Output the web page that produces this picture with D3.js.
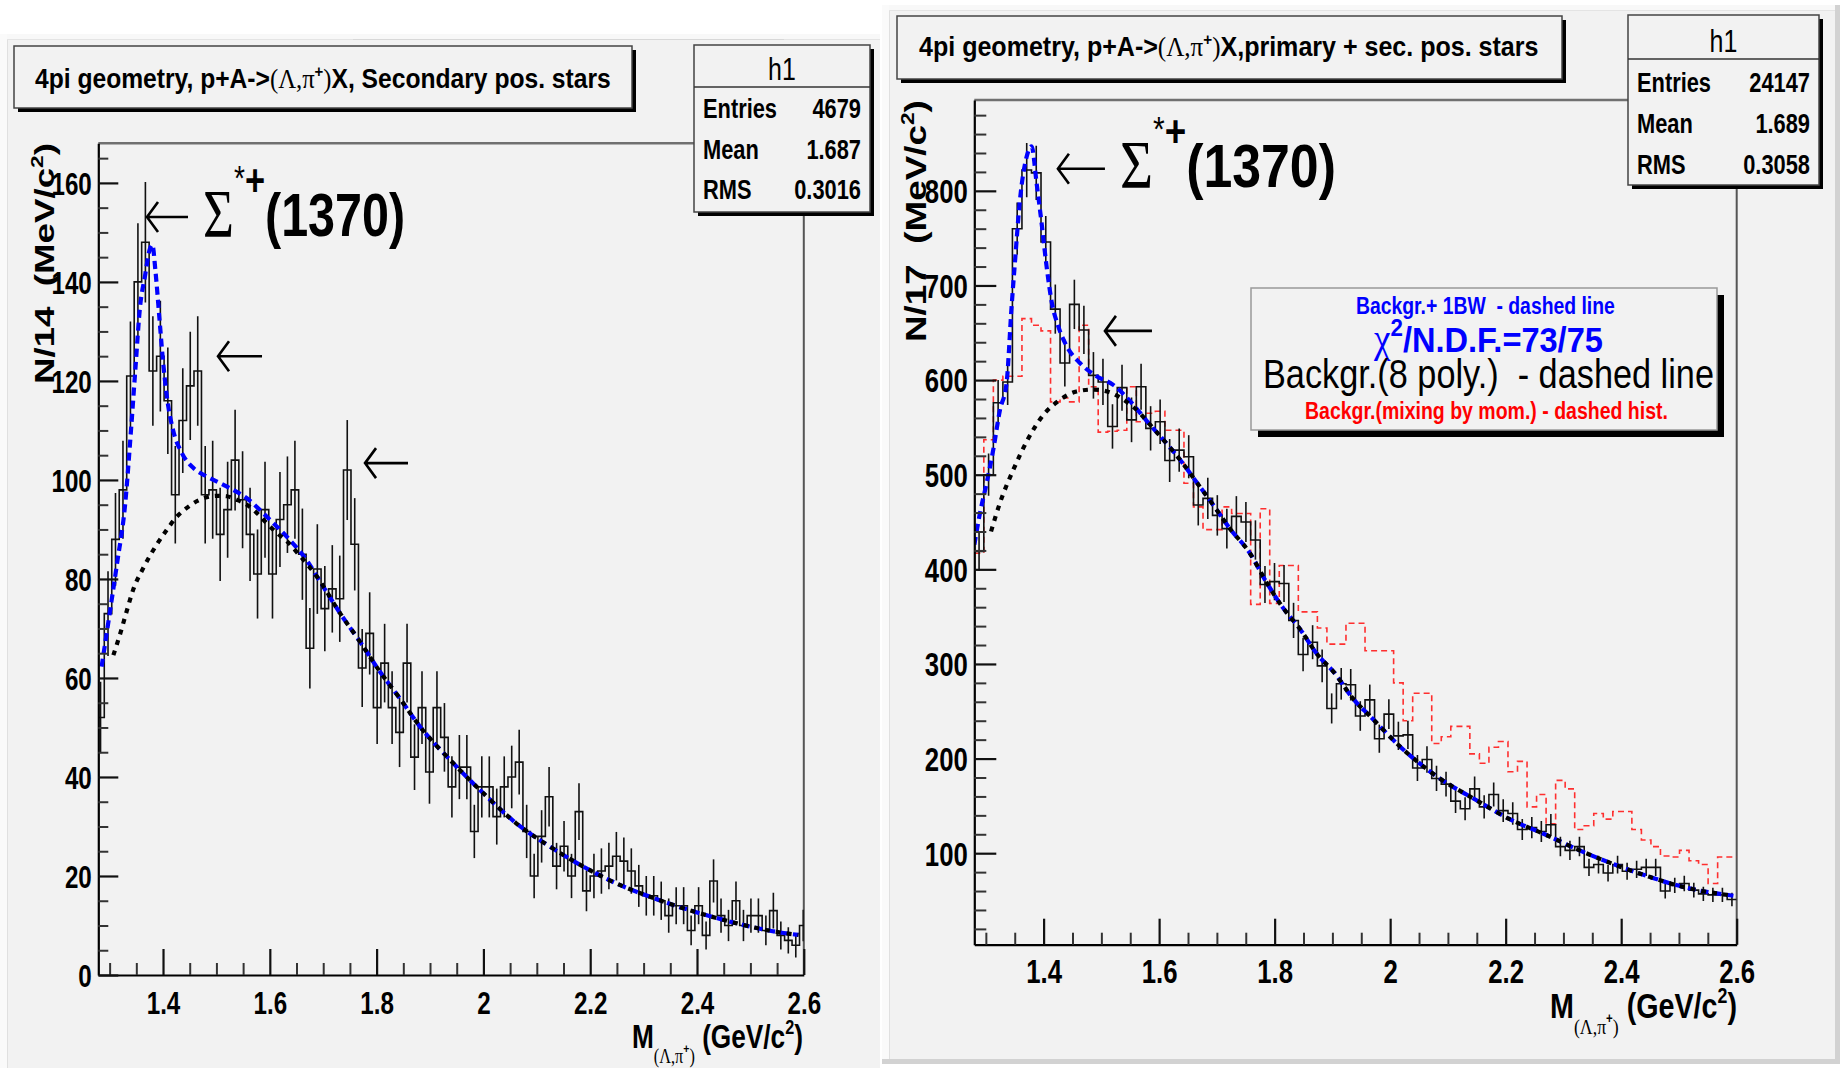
<!DOCTYPE html>
<html>
<head>
<meta charset="utf-8">
<script src="https://cdn.jsdelivr.net/npm/d3@7"></script>
<style>
  body { margin: 0; background: #fff; }
  text { white-space: pre; }
</style>
</head>
<body>
<svg id="chart" width="1842" height="1068"></svg>
<script>
// ---------- data ----------
// Left histogram: M(Λ,π+) in 14 MeV bins, secondary positive stars
const leftBinStart = 1.276;
const leftBinWidth = 0.014;
const leftCounts = [
  52, 73, 88, 98, 121, 140, 148, 122, 125, 116,
  97, 112, 119, 122, 97, 98, 89, 94, 104, 96,
  89, 81, 94, 81, 92, 95, 98, 85, 66, 82,
  74, 78, 76, 102, 87, 62, 69, 54, 63, 54,
  49, 63, 44, 54, 41, 54, 48, 38, 42, 42,
  29, 38, 38, 32, 38, 40, 43, 29, 20, 28,
  36, 22, 26, 20, 33, 17, 20, 21, 22, 24,
  23, 21, 18, 16, 16, 15, 12, 14, 14, 9,
  14, 8, 19, 12, 10, 15, 10, 12, 12, 9,
  13, 8, 7, 6, 10
];
// Fit curves, left: background + 1 BW (blue) and background polynomial (black)
const leftFit = [
  [1.285, 62.3], [1.301, 73.7], [1.314, 83.2], [1.329, 95], [1.340, 110], [1.348, 122],
  [1.357, 135], [1.366, 141], [1.375, 146.5], [1.380, 147.5], [1.386, 142], [1.393, 133],
  [1.400, 124], [1.407, 117], [1.419, 110], [1.435, 105.5], [1.457, 102.4], [1.482, 100.7],
  [1.519, 98.7], [1.557, 96.3], [1.594, 92.6], [1.632, 88.5], [1.669, 83.8], [1.694, 79.5],
  [1.732, 73], [1.769, 67.3], [1.806, 61.3], [1.844, 55.8], [1.881, 50.2], [1.938, 43.4],
  [2.000, 36.7], [2.062, 30.6], [2.125, 25.9], [2.187, 21.9], [2.249, 18.5], [2.312, 15.8],
  [2.374, 13.5], [2.437, 11.5], [2.499, 9.8], [2.549, 8.7], [2.590, 8.1]
];
const leftBkg = [
  [1.307, 64.6], [1.320, 69], [1.332, 73.5], [1.344, 77.8], [1.363, 82.2], [1.388, 86.9],
  [1.407, 89.9], [1.426, 92.6], [1.444, 94.3], [1.463, 95.7], [1.482, 96.5], [1.501, 96.8],
  [1.519, 96.7], [1.538, 96.0], [1.557, 95.0], [1.576, 93.3], [1.594, 91.3], [1.613, 89.3],
  [1.632, 87.6], [1.657, 84.6], [1.688, 80.5], [1.732, 73], [1.769, 67.3], [1.806, 61.3],
  [1.844, 55.8], [1.881, 50.2], [1.938, 43.4], [2.000, 36.7], [2.062, 30.6], [2.125, 25.9],
  [2.187, 21.9], [2.249, 18.5], [2.312, 15.8], [2.374, 13.5], [2.437, 11.5], [2.499, 9.8],
  [2.549, 8.7], [2.590, 8.1]
];

// Right histogram: M(Λ,π+) in 16.5 MeV bins, primary + secondary positive stars
const rightBinStart = 1.28;
const rightBinWidth = 0.0165;
const rightCounts = [
  419, 500, 576, 598, 760, 822, 819, 746, 675, 618,
  680, 653, 605, 598, 551, 592, 558, 593, 549, 556,
  515, 526, 519, 468, 475, 457, 443, 456, 450, 431,
  384, 387, 385, 346, 310, 323, 298, 253, 279, 278,
  245, 262, 221, 247, 224, 225, 190, 199, 179, 173,
  155, 147, 168, 149, 162, 145, 142, 125, 127, 123,
  130, 107, 103, 107, 85, 88, 79, 88, 81, 83,
  85, 85, 60, 66, 68, 61, 57, 56, 56, 51
];
// Background from event mixing by momentum (red dashed histogram)
const rightMixed = [
  417, 537, 600, 604, 604, 665, 658, 652, 577, 581,
  577, 658, 593, 545, 546, 547, 593, 556, 565, 567,
  547, 547, 491, 466, 442, 442, 466, 459, 459, 363,
  464, 364, 404, 404, 355, 355, 338, 321, 321, 343,
  343, 314, 314, 314, 280, 240, 269, 269, 216, 223,
  234, 234, 205, 195, 212, 218, 186, 197, 149, 162,
  131, 177, 168, 125, 129, 142, 136, 144, 144, 125,
  114, 107, 97, 96, 103, 92, 88, 68, 96, 96
];
const rightFit = [
  [1.2801, 426], [1.2897, 459], [1.3013, 491], [1.3127, 526], [1.3243, 568], [1.3359, 597],
  [1.3446, 678], [1.3503, 724], [1.359, 790], [1.3706, 836], [1.3792, 847], [1.3879, 808],
  [1.3965, 766], [1.4052, 720], [1.4139, 683], [1.4253, 657], [1.4398, 636], [1.4629, 618],
  [1.4918, 604], [1.5205, 595], [1.5494, 578], [1.5784, 557], [1.6071, 537], [1.636, 516],
  [1.6649, 492], [1.6937, 468], [1.7226, 443], [1.7572, 417], [1.7861, 386], [1.8149, 359],
  [1.8438, 337], [1.8727, 311], [1.9044, 290], [1.9361, 263], [1.9649, 245], [2.0255, 208],
  [2.0859, 179], [2.1465, 157], [2.2069, 136], [2.2675, 120], [2.328, 103], [2.3886, 88],
  [2.449, 75], [2.5096, 64], [2.5943, 55]
];
const rightBkg = [
  [1.309, 440], [1.3243, 470], [1.3474, 505], [1.3706, 535], [1.3993, 563], [1.4282, 579],
  [1.4571, 588], [1.4859, 590], [1.5148, 587], [1.5437, 577], [1.5668, 565], [1.5784, 557],
  [1.6071, 537], [1.636, 516], [1.6649, 492], [1.6937, 468], [1.7226, 443], [1.7572, 417],
  [1.7861, 386], [1.8149, 359], [1.8438, 337], [1.8727, 311], [1.9044, 290], [1.9361, 263],
  [1.9649, 245], [2.0255, 208], [2.0859, 179], [2.1465, 157], [2.2069, 136], [2.2675, 120],
  [2.328, 103], [2.3886, 88], [2.449, 75], [2.5096, 64], [2.5943, 55]
];

// Axis ticks and labels
const xMajorTicks = [1.4, 1.6, 1.8, 2.0, 2.2, 2.4, 2.6];
const xTickLabels = ["1.4", "1.6", "1.8", "2", "2.2", "2.4", "2.6"];
const leftYTicks = [0, 20, 40, 60, 80, 100, 120, 140, 160];
const rightYTicks = [100, 200, 300, 400, 500, 600, 700, 800];

// Statistics boxes
const statsLeft = [["Entries", "4679"], ["Mean", "1.687"], ["RMS", "0.3016"]];
const statsRight = [["Entries", "24147"], ["Mean", "1.689"], ["RMS", "0.3058"]];

// ---------- drawing ----------
const SANS = "'Liberation Sans', Arial, Helvetica, sans-serif";
const SERIF = "'Liberation Serif', 'Times New Roman', serif";
const SX = 0.78;          // horizontal condensing of the text
const PAD = "#f2f2f2";

const svg = d3.select("#chart");
svg.append("rect").attr("width", 1842).attr("height", 1068).attr("fill", "#fff");

// pads with their bevelled edges
function drawPad(x0, y0, x1, y1, darkEdges) {
  const g = svg.append("g");
  g.append("rect").attr("x", x0).attr("y", y0).attr("width", x1 - x0).attr("height", y1 - y0).attr("fill", PAD);
  g.append("rect").attr("x", x0).attr("y", y0).attr("width", x1 - x0).attr("height", 5).attr("fill", "#f8f8f8");
  g.append("rect").attr("x", x0).attr("y", y0).attr("width", 7).attr("height", y1 - y0).attr("fill", "#fafafa");
  g.append("line").attr("x1", x0 + 7.5).attr("x2", x0 + 7.5).attr("y1", y0 + 5).attr("y2", y1)
    .attr("stroke", "#e0e0e0").attr("stroke-width", 1);
  g.append("line").attr("x1", x0 + 7).attr("x2", x1).attr("y1", y0 + 5.5).attr("y2", y0 + 5.5)
    .attr("stroke", "#e4e4e4").attr("stroke-width", 1);
  if (darkEdges) {
    g.append("rect").attr("x", x1 - 5).attr("y", y0).attr("width", 5).attr("height", y1 - y0).attr("fill", "#d2d2d2");
    g.append("rect").attr("x", x0).attr("y", y1 - 5).attr("width", x1 - x0).attr("height", 5).attr("fill", "#d2d2d2");
  }
}
drawPad(0, 34, 880, 1068, false);
drawPad(882, 5, 1840, 1064, true);
svg.append("line").attr("x1", 353).attr("x2", 784).attr("y1", 39.5).attr("y2", 39.5)
  .attr("stroke", "#d8d8d8").attr("stroke-width", 1);

// text helpers
function fitText(t, x0, x1, baseY) {
  const bb = t.node().getBBox();
  const s = (x1 - x0) / bb.width;
  t.attr("transform", `translate(${x0 - bb.x * s},${baseY}) scale(${s},1)`);
}
function plainText(g, str, x, y, opts) {
  const t = g.append("text")
    .attr("font-family", opts.family || SANS)
    .attr("font-size", opts.size)
    .attr("font-weight", opts.weight || "normal")
    .attr("fill", opts.fill || "#000")
    .attr("text-anchor", opts.anchor || "start")
    .attr("transform", `translate(${x},${y}) scale(${opts.sx || SX},1)`)
    .text(str);
  return t;
}
function shadowBox(g, x0, y0, x1, y1, off, stroke) {
  g.append("rect").attr("x", x0 + off).attr("y", y0 + off).attr("width", x1 - x0).attr("height", y1 - y0).attr("fill", "#000");
  g.append("rect").attr("x", x0).attr("y", y0).attr("width", x1 - x0).attr("height", y1 - y0)
    .attr("fill", PAD).attr("stroke", stroke).attr("stroke-width", 1.5);
}

function stepPoints(start, width, counts) {
  const pts = [];
  counts.forEach((c, i) => {
    pts.push([start + i * width, c]);
    pts.push([start + (i + 1) * width, c]);
  });
  return pts;
}

function drawPanel(cfg) {
  const f = cfg.frame;
  const g = svg.append("g");
  const x = d3.scaleLinear().domain(cfg.xDomain).range([f.l, f.r]);
  const y = d3.scaleLinear().domain(cfg.yDomain).range([f.b, f.t]);

  // frame top and right edges
  g.append("line").attr("x1", f.l).attr("x2", f.r).attr("y1", f.t).attr("y2", f.t)
    .attr("stroke", "#707070").attr("stroke-width", 2.5);
  g.append("line").attr("x1", f.r).attr("x2", f.r).attr("y1", f.t).attr("y2", f.b)
    .attr("stroke", "#555").attr("stroke-width", 2);

  const clipId = "clip-" + cfg.id;
  svg.append("clipPath").attr("id", clipId).append("rect")
    .attr("x", f.l).attr("y", f.t).attr("width", f.r - f.l).attr("height", f.b - f.t);
  const plot = g.append("g").attr("clip-path", `url(#${clipId})`);

  const line = d3.line().x(d => x(d[0])).y(d => y(d[1]));
  const smooth = d3.line().x(d => x(d[0])).y(d => y(d[1])).curve(d3.curveMonotoneX);

  if (cfg.mixed) {
    plot.append("path")
      .attr("d", line(stepPoints(cfg.binStart, cfg.binWidth, cfg.mixed)))
      .attr("fill", "none").attr("stroke", "#ff1a1a").attr("stroke-width", 1.6)
      .attr("stroke-dasharray", "6,4").attr("opacity", 0.9);
  }

  plot.append("path")
    .attr("d", line(stepPoints(cfg.binStart, cfg.binWidth, cfg.counts)))
    .attr("fill", "none").attr("stroke", "#111").attr("stroke-width", 1.6);

  // Poisson error bars at bin centres
  plot.append("g").selectAll("line").data(cfg.counts).join("line")
    .attr("x1", (d, i) => x(cfg.binStart + (i + 0.5) * cfg.binWidth))
    .attr("x2", (d, i) => x(cfg.binStart + (i + 0.5) * cfg.binWidth))
    .attr("y1", d => y(d - Math.sqrt(d)))
    .attr("y2", d => y(d + Math.sqrt(d)))
    .attr("stroke", "#111").attr("stroke-width", 1.6);

  // fit curves
  plot.append("path").attr("d", smooth(cfg.fit))
    .attr("fill", "none").attr("stroke", "#0000ff").attr("stroke-width", 4.2)
    .attr("stroke-dasharray", "8,5");
  plot.append("path").attr("d", smooth(cfg.bkg))
    .attr("fill", "none").attr("stroke", "#000").attr("stroke-width", 4.2)
    .attr("stroke-dasharray", "5,6");

  // axes (ticks pointing into the frame)
  const xMinor = d3.range(26, 53).filter(i => i % 4 !== 0).map(i => i * 0.05);
  const axX = g.append("g").attr("transform", `translate(0,${f.b})`)
    .call(d3.axisBottom(x).tickValues(xMajorTicks).tickSize(-cfg.xMajorLen).tickSizeOuter(0)
      .tickFormat((d, i) => xTickLabels[i]));
  const axXm = g.append("g").attr("transform", `translate(0,${f.b})`)
    .call(d3.axisBottom(x).tickValues(xMinor).tickSize(-cfg.xMinorLen).tickSizeOuter(0).tickFormat(""));
  const axY = g.append("g").attr("transform", `translate(${f.l},0)`)
    .call(d3.axisLeft(y).tickValues(cfg.yTicks).tickSize(-cfg.yMajorLen).tickSizeOuter(0));
  const yMinor = d3.range(cfg.yMinorStep, cfg.yDomain[1], cfg.yMinorStep)
    .filter(v => v % cfg.yMajorStep !== 0 && v > cfg.yDomain[0]);
  const axYm = g.append("g").attr("transform", `translate(${f.l},0)`)
    .call(d3.axisLeft(y).tickValues(yMinor).tickSize(-cfg.yMinorLen).tickSizeOuter(0).tickFormat(""));

  [axXm, axYm].forEach(a => {
    a.select(".domain").remove();
    a.selectAll(".tick line").attr("stroke", "#333").attr("stroke-width", 2);
  });
  [axX, axY].forEach(a => {
    a.select(".domain").attr("stroke", "#000").attr("stroke-width", 2.2);
    a.selectAll(".tick line").attr("stroke", "#111").attr("stroke-width", 2.2);
    a.attr("font-family", SANS).attr("font-size", cfg.tickFont).attr("font-weight", "bold");
  });
  axX.selectAll(".tick text")
    .attr("y", cfg.xLabelOff).attr("dy", null).attr("fill", "#000")
    .attr("transform", `scale(${SX},1)`);
  axY.selectAll(".tick text")
    .attr("x", -cfg.yLabelGap / SX).attr("dy", "0.36em").attr("fill", "#000")
    .attr("transform", `scale(${SX},1)`);

  return { x, y, g };
}

function yTitle(g, label, baseX, yBottom, yTop, size) {
  const t = g.append("text").attr("font-family", SANS).attr("font-weight", "bold")
    .attr("font-size", size).attr("fill", "#000");
  t.append("tspan").text(label + "  (MeV/c");
  t.append("tspan").attr("font-size", size * 0.62).attr("dy", -size * 0.42).text("2");
  t.append("tspan").attr("dy", size * 0.42).text(")");
  const bb = t.node().getBBox();
  const sl = (yBottom - yTop) / bb.width;
  t.attr("transform", `translate(${baseX},${yBottom + bb.x * sl}) scale(0.8,1) rotate(-90) scale(${sl},1)`);
}

function xTitle(g, x0, x1, baseY, size) {
  const t = g.append("text").attr("font-family", SANS).attr("font-weight", "bold")
    .attr("font-size", size).attr("fill", "#000");
  t.append("tspan").text("M");
  t.append("tspan").attr("font-family", SERIF).attr("font-weight", "normal")
    .attr("font-size", size * 0.62).attr("dy", size * 0.45).text("(Λ,π");
  t.append("tspan").attr("font-size", size * 0.4).attr("dy", -size * 0.3).text("+");
  t.append("tspan").attr("font-family", SERIF).attr("font-weight", "normal")
    .attr("font-size", size * 0.62).attr("dy", size * 0.3).text(")");
  t.append("tspan").attr("dy", -size * 0.45).text(" (GeV/c");
  t.append("tspan").attr("font-size", size * 0.62).attr("dy", -size * 0.42).text("2");
  t.append("tspan").attr("dy", size * 0.42).text(")");
  fitText(t, x0, x1, baseY);
}

function arrow(g, xTip, xTail, yy) {
  const hx = 11, hy = 15;
  g.append("path")
    .attr("d", `M${xTail},${yy}L${xTip},${yy}M${xTip + hx},${yy - hy}L${xTip},${yy}L${xTip + hx},${yy + hy}`)
    .attr("fill", "none").attr("stroke", "#000").attr("stroke-width", 2.6);
}

function sigmaLabel(g, x0, x1, baseY) {
  const t = g.append("text").attr("font-family", SANS).attr("font-weight", "bold").attr("fill", "#000");
  t.append("tspan").attr("font-family", SERIF).attr("font-weight", "normal").attr("font-size", 68).text("Σ");
  t.append("tspan").attr("font-size", 36).attr("font-weight", "normal").attr("dy", -46).text("*");
  t.append("tspan").attr("font-size", 44).attr("dy", 6).text("+");
  t.append("tspan").attr("font-size", 62).attr("dy", 40).text("(1370)");
  fitText(t, x0, x1, baseY);
}

function titleBox(g, box, suffix, x0, x1, baseY) {
  shadowBox(g, box[0], box[1], box[2], box[3], 4, "#444");
  const t = g.append("text").attr("font-family", SANS).attr("font-size", 28)
    .attr("font-weight", "bold").attr("fill", "#000");
  t.append("tspan").text("4pi geometry, p+A->");
  t.append("tspan").attr("font-family", SERIF).attr("font-weight", "normal").text("(Λ,π");
  t.append("tspan").attr("font-size", 17).attr("dy", -11).text("+");
  t.append("tspan").attr("font-family", SERIF).attr("font-weight", "normal").attr("dy", 11).text(")");
  t.append("tspan").text(suffix);
  fitText(t, x0, x1, baseY);
}

function statsBox(g, box, sepY, headY, rows, rowYs, labelX, valueX) {
  shadowBox(g, box[0], box[1], box[2], box[3], 4, "#444");
  g.append("line").attr("x1", box[0]).attr("x2", box[2]).attr("y1", sepY).attr("y2", sepY)
    .attr("stroke", "#333").attr("stroke-width", 1.5);
  plainText(g, "h1", (box[0] + box[2]) / 2, headY, { size: 32, anchor: "middle" });
  rows.forEach((r, i) => {
    plainText(g, r[0], labelX, rowYs[i], { size: 28, weight: "bold" });
    plainText(g, r[1], valueX, rowYs[i], { size: 28, weight: "bold", anchor: "end" });
  });
}

// ----- left panel -----
const L = drawPanel({
  id: "L",
  frame: { l: 98.3, r: 803.8, t: 143.3, b: 975 },
  xDomain: [1.2788, 2.6], yDomain: [0, 168],
  binStart: leftBinStart, binWidth: leftBinWidth, counts: leftCounts,
  fit: leftFit, bkg: leftBkg, mixed: null,
  yTicks: leftYTicks, yMajorStep: 20, yMinorStep: 5,
  yMajorLen: 20, yMinorLen: 10, xMajorLen: 26, xMinorLen: 12,
  tickFont: 31, xLabelOff: 39, yLabelGap: 6.5
});
yTitle(L.g, "N/14", 54, 384, 143, 34);
xTitle(L.g, 632, 803, 1048, 33);
arrow(L.g, L.x(1.370), L.x(1.4468), L.y(153.1));
sigmaLabel(L.g, L.x(1.475), L.x(1.8532), L.y(149.3));
arrow(L.g, L.x(1.503), L.x(1.5854), L.y(125));
arrow(L.g, L.x(1.7783), L.x(1.8588), L.y(103.4));

// ----- right panel -----
const R = drawPanel({
  id: "R",
  frame: { l: 974.3, r: 1736.7, t: 100, b: 944.7 },
  xDomain: [1.28, 2.6], yDomain: [3.3, 896],
  binStart: rightBinStart, binWidth: rightBinWidth, counts: rightCounts,
  fit: rightFit, bkg: rightBkg, mixed: rightMixed,
  yTicks: rightYTicks, yMajorStep: 100, yMinorStep: 20,
  yMajorLen: 22, yMinorLen: 12, xMajorLen: 26, xMinorLen: 12,
  tickFont: 33, xLabelOff: 38, yLabelGap: 6.5
});
yTitle(R.g, "N/17", 926, 342, 100, 36);
xTitle(R.g, 1550, 1737, 1018, 35);
arrow(R.g, R.x(1.4248), R.x(1.5062), R.y(823.3));
sigmaLabel(R.g, R.x(1.5321), R.x(1.9061), R.y(804.2));
arrow(R.g, R.x(1.5062), R.x(1.5876), R.y(652));

// legend of the fits
const leg = svg.append("g");
shadowBox(leg, 1251, 288, 1717, 430, 7, "#999");
fitText(leg.append("text").attr("font-family", SANS).attr("font-weight", "bold").attr("font-size", 24)
  .attr("fill", "#0000ff").text("Backgr.+ 1BW  - dashed line"), 1356, 1615, 314);
{
  const t = leg.append("text").attr("font-family", SANS).attr("font-weight", "bold")
    .attr("font-size", 35).attr("fill", "#0000ff");
  t.append("tspan").attr("font-family", SERIF).attr("font-weight", "normal").attr("font-size", 40).text("χ");
  t.append("tspan").attr("font-size", 24).attr("dy", -16).text("2");
  t.append("tspan").attr("dy", 16).text("/N.D.F.=73/75");
  fitText(t, 1373, 1603, 352);
}
fitText(leg.append("text").attr("font-family", SANS).attr("font-size", 40)
  .attr("fill", "#000").text("Backgr.(8 poly.)  - dashed line"), 1263, 1714, 388);
fitText(leg.append("text").attr("font-family", SANS).attr("font-weight", "bold").attr("font-size", 24)
  .attr("fill", "#ff0000").text("Backgr.(mixing by mom.) - dashed hist."), 1305, 1668, 419);

// titles and statistics
const boxes = svg.append("g");
titleBox(boxes, [14, 46, 632, 108], "X, Secondary pos. stars", 35, 611, 88);
titleBox(boxes, [897, 16, 1562, 79], "X,primary + sec. pos. stars", 919, 1539, 56);
statsBox(boxes, [694, 45, 870, 212], 87, 80, statsLeft, [118, 159, 199], 703, 861);
statsBox(boxes, [1628, 15, 1819, 185], 59, 52, statsRight, [92, 133, 174], 1637, 1810);
</script>
</body>
</html>
